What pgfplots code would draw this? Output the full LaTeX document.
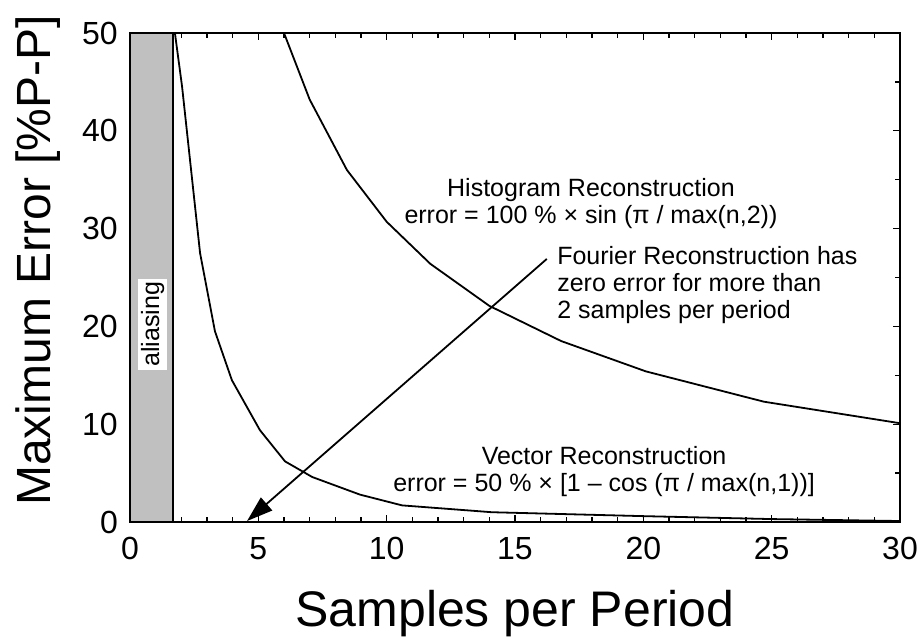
\documentclass[border=0pt]{standalone}
\usepackage{pgfplots}
\pgfplotsset{compat=1.18}
\usetikzlibrary{arrows.meta}
\usepackage{fontspec}
\setmainfont{Liberation Sans}
\definecolor{bargray}{RGB}{192,192,192}
\begin{document}
\begin{tikzpicture}
\path[use as bounding box] (-130pt,-118pt) rectangle (793pt,522pt);
\begin{axis}[
  at={(0,0)}, anchor=south west,
  scale only axis, width=770pt, height=489pt,
  xmin=0, xmax=30, ymin=0, ymax=50,
  xtick={0,5,...,30}, ytick={0,10,...,50},
  minor x tick num=4, minor y tick num=1,
  tick align=inside,
  major tick length=7pt, minor tick length=5pt,
  every tick/.style={black, line width=1.4pt},
  axis line style={line width=2pt},
  /pgf/number format/assume math mode=true,
  tick label style={font=\fontsize{32}{32}\selectfont},
  xticklabel style={anchor=north, inner sep=0pt, yshift=-15pt},
  yticklabel style={anchor=east, inner sep=0pt, xshift=-12pt},
  xlabel={Samples per Period},
  ylabel={Maximum Error [\%P-P]},
  label style={inner sep=0pt},
  xlabel style={font=\fontsize{50}{50}\selectfont, at={(axis description cs:0.5,-0.214)}, anchor=base},
  ylabel style={font=\fontsize{48}{48}\selectfont, at={(axis description cs:-0.1026,0.535)}, anchor=base, rotate=0},
  clip=false,
]
\addplot[draw=black, line width=2pt, fill=bargray] coordinates {(0,50) (1.67,50)} \closedcycle;
\node[rotate=90, fill=white, inner sep=3pt, font=\fontsize{25}{27}\selectfont] at (axis cs:0.88,20.2) {aliasing};

% Histogram reconstruction
\addplot[black, line width=1.8pt] coordinates {
(6,50) (7,43.2) (8.45,36.0) (10,30.7) (11.7,26.4) (14.0,22.1) (16.8,18.5) (20.1,15.4) (24.7,12.3) (30,10.1)
};
% Vector reconstruction
\addplot[black, line width=1.8pt] coordinates {
(1.75,50) (2.03,44.5) (2.73,27.5) (3.31,19.5) (3.97,14.5) (5.06,9.4) (6.04,6.2) (7.1,4.6) (8.96,2.8) (10.6,1.7) (14.1,1.0) (20,0.6) (25,0.3) (30,0.1)
};

\draw[-{Triangle[length=26pt,width=17pt]}, line width=1.8pt] (axis cs:16.24,26.9) -- (axis cs:4.56,0.1);

\node[align=center, font=\fontsize{25}{27}\selectfont, inner sep=0pt] at (axis cs:17.96,32.6)
 {Histogram Reconstruction\\error = 100 \% × sin (π / max(n,2))};
\node[align=left, anchor=west, font=\fontsize{25}{27}\selectfont, inner sep=0pt] at (axis cs:16.64,24.2)
 {Fourier Reconstruction has\\zero error for more than\\2 samples per period};
\node[align=center, font=\fontsize{25}{27}\selectfont, inner sep=0pt] at (axis cs:18.47,5.16)
 {Vector Reconstruction\\error = 50 \% × [1 – cos (π / max(n,1))]};
\end{axis}
\end{tikzpicture}
\end{document}
